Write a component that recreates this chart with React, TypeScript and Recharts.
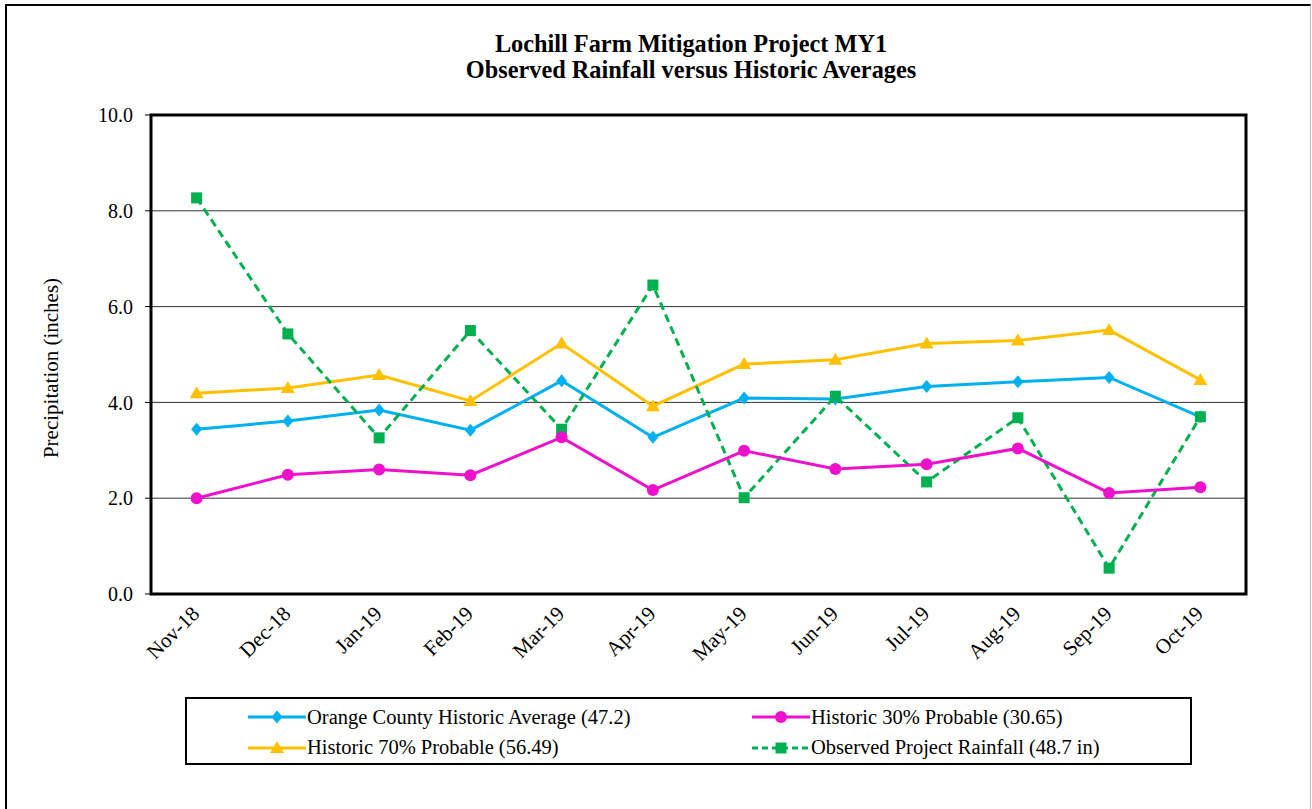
import React from 'react';
import { LineChart, Line, XAxis, YAxis, CartesianGrid, ReferenceArea, Label } from 'recharts';

const months = ['Nov-18', 'Dec-18', 'Jan-19', 'Feb-19', 'Mar-19', 'Apr-19', 'May-19', 'Jun-19', 'Jul-19', 'Aug-19', 'Sep-19', 'Oct-19'];
const countyAverage = [3.44, 3.61, 3.84, 3.42, 4.45, 3.27, 4.09, 4.07, 4.33, 4.43, 4.52, 3.7];
const probable30 = [2.0, 2.49, 2.6, 2.48, 3.27, 2.17, 2.99, 2.61, 2.71, 3.04, 2.11, 2.23];
const probable70 = [4.19, 4.3, 4.57, 4.03, 5.23, 3.92, 4.8, 4.89, 5.23, 5.29, 5.51, 4.47];
const observed = [8.27, 5.43, 3.26, 5.5, 3.44, 6.45, 2.01, 4.13, 2.34, 3.68, 0.54, 3.7];
const yTicks = [0, 2, 4, 6, 8, 10];

const FONT = '"Liberation Serif", "Times New Roman", serif';

type Shape = 'diamond' | 'circle' | 'triangle' | 'square';

interface Series {
  key: string;
  name: string;
  color: string;
  shape: Shape;
  dashed?: boolean;
}

const county: Series = { key: 'county', name: 'Orange County Historic Average (47.2)', color: '#00B0F0', shape: 'diamond' };
const p30: Series = { key: 'p30', name: 'Historic 30% Probable (30.65)', color: '#EE11CC', shape: 'circle' };
const p70: Series = { key: 'p70', name: 'Historic 70% Probable (56.49)', color: '#FFC000', shape: 'triangle' };
const obs: Series = { key: 'obs', name: 'Observed Project Rainfall (48.7 in)', color: '#00B050', shape: 'square', dashed: true };

// legend reads in this order, but the lines stack differently
const legendOrder = [county, p30, p70, obs];
const drawOrder = [county, p70, obs, p30];

const data = months.map((month, i) => ({
  idx: i,
  month,
  county: countyAverage[i],
  p30: probable30[i],
  p70: probable70[i],
  obs: observed[i],
}));

const centers = months.map((_, i) => i);
const boundaries = [...centers.map((i) => i - 0.5), months.length - 0.5];
const xDomain = [-0.5, months.length - 0.5];

const Marker = ({ shape, cx, cy, color }: { shape: Shape; cx: number; cy: number; color: string }) => {
  if (shape === 'diamond') {
    return <path d={`M${cx},${cy - 6.5} L${cx + 5.5},${cy} L${cx},${cy + 6.5} L${cx - 5.5},${cy} Z`} fill={color} />;
  }
  if (shape === 'circle') {
    return <circle cx={cx} cy={cy} r={6} fill={color} />;
  }
  if (shape === 'triangle') {
    return <path d={`M${cx},${cy - 7} L${cx + 7},${cy + 5} L${cx - 7},${cy + 5} Z`} fill={color} />;
  }
  return <rect x={cx - 5.5} y={cy - 5.5} width={11} height={11} fill={color} />;
};

const MonthTick = ({ x, y, payload }: any) => (
  <g transform={`translate(${x - 1},${y + 2}) rotate(-45)`}>
    <text x={0} y={0} textAnchor="end" dominantBaseline="central" fontSize={21} fill="#000" fontFamily={FONT}>
      {months[payload.value]}
    </text>
  </g>
);

const YTitle = () => (
  <text
    transform="translate(51,368) rotate(-90)"
    textAnchor="middle"
    dominantBaseline="central"
    fontSize={21}
    fill="#000"
    fontFamily={FONT}
  >
    Precipitation (inches)
  </text>
);

const LegendIcon = ({ s }: { s: Series }) => (
  <svg width={58} height={18} style={{ display: 'block', flex: 'none' }}>
    <line x1={0} y1={9} x2={58} y2={9} stroke={s.color} strokeWidth={3} strokeDasharray={s.dashed ? '6 4' : undefined} />
    <Marker shape={s.shape} cx={29} cy={9} color={s.color} />
  </svg>
);

export default function App() {
  return (
    <div style={{ position: 'absolute', left: 0, top: 0, width: 1312, height: 809, overflow: 'hidden', background: '#fff', fontFamily: FONT }}>
      <div
        style={{
          position: 'absolute',
          left: 5,
          top: 4,
          width: 1306,
          height: 840,
          border: '2px solid #000',
          borderRight: '1px solid #bbb',
          boxSizing: 'border-box',
        }}
      />
      <div
        style={{
          position: 'absolute',
          left: 0,
          top: 31,
          width: 1382,
          textAlign: 'center',
          fontWeight: 'bold',
          fontSize: 24.3,
          lineHeight: '26px',
          color: '#000',
        }}
      >
        Lochill Farm Mitigation Project MY1
        <br />
        Observed Rainfall versus Historic Averages
      </div>

      <div style={{ position: 'absolute', left: 0, top: 0 }}>
        <LineChart width={1312} height={809} data={data} margin={{ top: 115, right: 66, left: 81, bottom: 129 }}>
          <CartesianGrid xAxisId="grid" yAxisId="y" horizontal={false} stroke="#a6a6a6" />
          <CartesianGrid xAxisId="grid" yAxisId="y" vertical={false} stroke="#333" />
          <XAxis
            xAxisId="grid"
            type="number"
            dataKey="idx"
            domain={xDomain}
            ticks={boundaries}
            interval={0}
            allowDataOverflow
            tick={false}
            tickSize={6}
            tickLine={{ stroke: '#555' }}
            axisLine={false}
            height={6}
          />
          <XAxis
            xAxisId="lbl"
            type="number"
            dataKey="idx"
            domain={xDomain}
            ticks={centers}
            interval={0}
            allowDataOverflow
            tick={<MonthTick />}
            tickLine={false}
            axisLine={false}
            height={80}
          />
          <YAxis
            yAxisId="y"
            width={70}
            domain={[0, 10]}
            ticks={yTicks}
            interval={0}
            tickFormatter={(v: number) => v.toFixed(1)}
            tick={{ fontSize: 20, fill: '#000', fontFamily: FONT }}
            tickLine={{ stroke: '#000' }}
            tickSize={6}
            tickMargin={12}
            axisLine={false}
          >
            <Label content={<YTitle />} />
          </YAxis>
          <ReferenceArea
            xAxisId="grid"
            yAxisId="y"
            x1={xDomain[0]}
            x2={xDomain[1]}
            y1={0}
            y2={10}
            fill="none"
            stroke="#000"
            strokeWidth={3}
            ifOverflow="visible"
          />
          {drawOrder.map((s) => (
            <Line
              key={s.key}
              xAxisId="lbl"
              yAxisId="y"
              type="linear"
              dataKey={s.key}
              name={s.name}
              stroke={s.color}
              strokeWidth={3}
              strokeDasharray={s.dashed ? '8 5' : undefined}
              isAnimationActive={false}
              dot={(p: any) => <Marker key={`${s.key}-${p.index}`} shape={s.shape} cx={p.cx} cy={p.cy} color={s.color} />}
              activeDot={false}
            />
          ))}
        </LineChart>
      </div>

      <div
        style={{
          position: 'absolute',
          left: 185,
          top: 697,
          width: 1007,
          height: 68,
          border: '2px solid #000',
          boxSizing: 'border-box',
          display: 'grid',
          gridTemplateColumns: '504px 440px',
          paddingLeft: 61,
          paddingTop: 3,
        }}
      >
        {legendOrder.map((s) => (
          <div key={s.key} style={{ display: 'flex', alignItems: 'center', height: 30, fontSize: 20.5, color: '#000', whiteSpace: 'nowrap' }}>
            <LegendIcon s={s} />
            <span style={{ marginLeft: 1 }}>{s.name}</span>
          </div>
        ))}
      </div>
    </div>
  );
}
